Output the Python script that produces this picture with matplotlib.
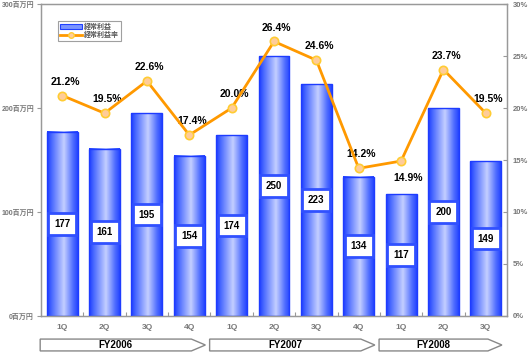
import numpy as np
import matplotlib
matplotlib.use("Agg")
import matplotlib.pyplot as plt
from matplotlib.colors import LinearSegmentedColormap
from matplotlib.patches import Rectangle, Polygon, Patch
from matplotlib.lines import Line2D

plt.rcParams['font.family'] = ['Liberation Sans', 'Noto Sans CJK JP', 'DejaVu Sans']

# donnees
quarters = ["1Q", "2Q", "3Q", "4Q", "1Q", "2Q", "3Q", "4Q", "1Q", "2Q", "3Q"]
profit = [177, 161, 195, 154, 174, 250, 223, 134, 117, 200, 149]
margin = [21.2, 19.5, 22.6, 17.4, 20.0, 26.4, 24.6, 14.2, 14.9, 23.7, 19.5]
years = ["FY2006", "FY2007", "FY2008"]
year_sizes = [4, 4, 3]
left_ticks = [0, 100, 200, 300]
left_labels = ["0百万円", "100百万円", "200百万円", "300百万円"]
right_ticks = [0, 5, 10, 15, 20, 25, 30]

fig = plt.figure(figsize=(5.3, 3.52), dpi=100)
ax = fig.add_axes([0.0774, 0.1023, 0.8792, 0.8863])

x = np.arange(len(profit))
w = 0.73
cmap = LinearSegmentedColormap.from_list("bar", [(0, "#1c3cff"), (0.15, "#4a6aff"),
                                                 (0.55, "#c4cfff"), (0.85, "#4f6dff"),
                                                 (1, "#2444ff")])
grad = np.linspace(0, 1, 64).reshape(1, -1)
for xi, v in zip(x, profit):
    ax.imshow(grad, cmap=cmap, extent=[xi - w/2, xi + w/2, 0, v], aspect="auto", zorder=2)
    ax.add_patch(Rectangle((xi - w/2, 0), w, v, fill=False, ec="#1e3cff", lw=1.0, zorder=3))
    ax.text(xi, v/2, str(v), ha="center", va="center", fontsize=7, fontweight="bold",
            zorder=4, bbox=dict(boxstyle="square,pad=0.6", fc="white", ec="#3050ff", lw=2))

ax.set_xlim(-0.5, len(profit) - 0.5)
ax.set_ylim(0, 300)
ax.set_yticks(left_ticks)
ax.set_yticklabels(left_labels, fontsize=5, color="#777777", fontweight="bold")
ax.tick_params(axis="y", direction="out", length=3, color="#999999", pad=2)
ax.set_xticks(x[:-1] + 0.5)
ax.set_xticklabels([])
ax.tick_params(axis="x", direction="in", length=3, color="#999999")
for sp in ax.spines.values():
    sp.set_color("#999999")
    sp.set_linewidth(1.0)

# categories
for xi, q in zip(x, quarters):
    ax.text(xi, -0.038, q, transform=ax.get_xaxis_transform(), ha="center", va="center",
            fontsize=6, fontweight="bold", color="#777777")

# fleches des exercices
tr = ax.get_xaxis_transform()
start = 0
for name, n in zip(years, year_sizes):
    x0 = start - 0.52
    x1 = start + n - 0.62
    head = 0.33
    pts = [(x0, -0.074), (x1 - head, -0.074), (x1, -0.093), (x1 - head, -0.112), (x0, -0.112)]
    ax.add_patch(Polygon(pts, closed=True, transform=tr, fc="white", ec="#888888",
                         lw=1.0, clip_on=False))
    ax.text((x0 + x1 - head) / 2, -0.093, name, transform=tr, ha="center", va="center",
            fontsize=7, fontweight="bold")
    start += n

# taux
ax2 = ax.twinx()
ax2.plot(x, margin, color="#ff9900", lw=2, marker="o", ms=6, mfc="#ffcc99",
         mec="#ffcc33", mew=1.2, zorder=5)
for xi, m in zip(x, margin):
    if m == 14.9:
        off = (5, -12)
    else:
        off = (2, 10)
    ax2.annotate(f"{m:.1f}%", (xi, m), xytext=off, textcoords="offset points",
                 ha="center", va="center", fontsize=7.5, fontweight="bold")
ax2.set_ylim(0, 30)
ax2.set_yticks(right_ticks)
ax2.set_yticklabels([f"{t}%" for t in right_ticks], fontsize=5.5, color="#777777",
                    fontweight="bold")
ax2.tick_params(axis="y", direction="in", length=3, color="#999999", pad=4)
for sp in ax2.spines.values():
    sp.set_color("#999999")

handles = [Patch(fc="#7a94ff", ec="#2040ff", lw=0.8),
           Line2D([], [], color="#ff9900", lw=2, marker="o", ms=4, mfc="#ffcc99", mec="#ffcc33")]
leg = ax2.legend(handles, ["経常利益", "経常利益率"], loc="upper left",
                 bbox_to_anchor=(0.036, 0.945), fontsize=5, frameon=True, fancybox=False,
                 borderpad=0.3, handlelength=3.2, handletextpad=0.3, labelspacing=0.2,
                 borderaxespad=0)
leg.get_frame().set_edgecolor("#888888")
leg.get_frame().set_linewidth(0.8)
for t in leg.get_texts():
    t.set_fontweight("bold")
    t.set_color("#555555")

fig.savefig("out.png", dpi=100)
